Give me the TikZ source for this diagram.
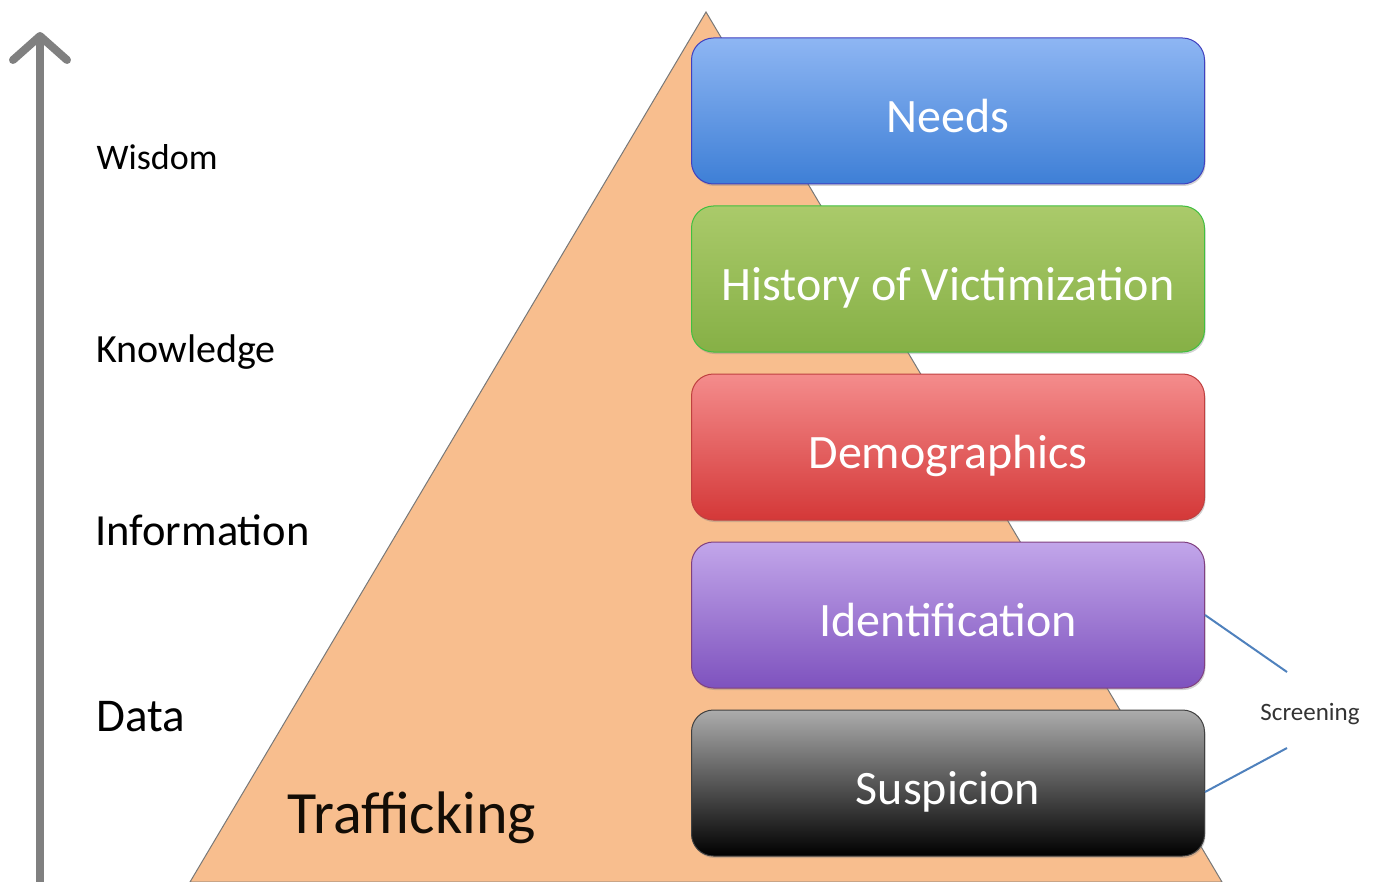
\documentclass[tikz,border=0pt]{standalone}
\usepackage{fontspec}
\setmainfont{Carlito}
\usepackage{tikz}
\usetikzlibrary{arrows.meta,shadows}

\definecolor{peach}{RGB}{248,190,142}
\definecolor{edgegray}{RGB}{120,120,120}
\definecolor{arrowgray}{RGB}{128,128,128}
\definecolor{screenblue}{RGB}{79,129,189}

\begin{document}
\begin{tikzpicture}[x=1pt,y=-1pt]
    \tikzset{
        layer/.style={draw=#1!50!gray, line width=1pt, rounded corners=22pt,
            minimum width=513pt, minimum height=146pt, inner sep=0pt,
            text height=43pt, text depth=0pt,
            text=white, font=\fontsize{48}{56}\selectfont,
            drop shadow={shadow xshift=1pt, shadow yshift=-2pt, opacity=0.35}},
        level/.style={anchor=west, font=\fontsize{#1}{44}\selectfont},
        line/.style={draw=screenblue, line width=2pt},
    };
    \useasboundingbox (0,0) rectangle (1380,882);

    % pyramid
    \coordinate (apex) at (706,12);
    \coordinate (baseL) at (190,882);
    \coordinate (baseR) at (1222,882);
    \draw [fill=peach, draw=edgegray, line width=1pt] (apex) -- (baseR) -- (baseL) -- cycle;

    % axis
    \coordinate (axisbot) at (40,882);
    \coordinate (axistop) at (40,32);
    \draw [arrowgray, line width=8pt, line cap=round,
        -{Straight Barb[length=24pt, width=54pt, line cap=round, line join=round]}]
        (axisbot) -- (axistop);

    % levels
    \node [level=36] (wisdom) at (93,157) {Wisdom};
    \node [level=40] (knowledge) at (93,352) {Knowledge};
    \node [level=44.5] (information) at (92,530) {Information};
    \node [level=47] (data) at (93,717) {Data};
    \node [font=\fontsize{60}{70}\selectfont, text=black!90!brown] (trafficking) at (412,818) {Trafficking};

    % layers
    \node [layer=blue, top color={rgb,255:red,142;green,182;blue,243}, bottom color={rgb,255:red,62;green,127;blue,214}] (needs) at (948,111) {Needs};
    \node [layer=green, top color={rgb,255:red,170;green,202;blue,106}, bottom color={rgb,255:red,134;green,176;blue,70}] (history) at (948,279) {History of Victimization};
    \node [layer=red, top color={rgb,255:red,244;green,140;blue,140}, bottom color={rgb,255:red,212;green,56;blue,56}] (demo) at (948,447) {Demographics};
    \node [layer=violet, top color={rgb,255:red,194;green,166;blue,234}, bottom color={rgb,255:red,126;green,82;blue,190}] (ident) at (948,615) {Identification};
    \node [layer=black, top color={rgb,255:red,172;green,172;blue,172}, bottom color=black] (susp) at (948,783) {Suspicion};

    % screening
    \node [font=\fontsize{25}{30}\selectfont, text=black!80] (screening) at (1310,714) {Screening};
    \coordinate (scrtop) at (1287,672);
    \coordinate (scrbot) at (1287,748);
    \path [line] (ident.east) -- (scrtop);
    \path [line] ([yshift=-9pt]susp.east) -- (scrbot);
\end{tikzpicture}
\end{document}
